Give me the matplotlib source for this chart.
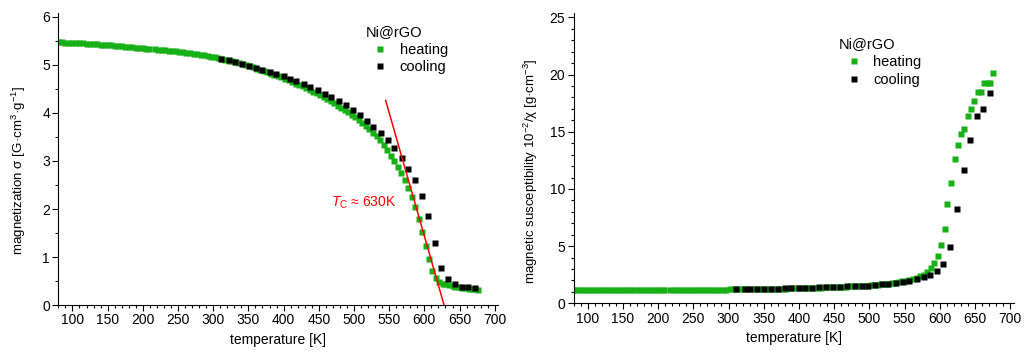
import numpy as np
import matplotlib
matplotlib.use("Agg")
import matplotlib.pyplot as plt
from matplotlib.ticker import MultipleLocator

plt.rcParams['font.family'] = ['Liberation Sans', 'DejaVu Sans']
plt.rcParams['mathtext.fontset'] = 'custom'
plt.rcParams['mathtext.rm'] = 'Liberation Sans'
plt.rcParams['mathtext.it'] = 'Liberation Sans:italic'

# heating run: temperature [K]
heat_T = [80, 85, 90, 95, 100, 105, 110, 115, 120, 125, 130, 135, 140, 145, 150,
          155, 160, 165, 170, 175, 180, 185, 190, 195, 200, 205, 209,
          217, 222, 227, 232, 237, 242, 247, 252, 257, 262, 267, 272, 277, 282,
          287, 292, 297, 302, 307, 312, 317, 322, 327, 332, 337, 342, 347, 352,
          357, 362, 367, 372, 377, 382, 387, 392, 397, 402, 407, 412, 417, 422,
          427, 432, 437, 442, 447, 452, 457, 462, 467, 472, 477, 482, 487, 492,
          497, 502, 507, 512, 517, 522, 527, 532, 537, 542, 547, 552, 557, 562,
          567, 572, 577, 582, 587, 592, 597, 602, 607, 611, 616, 621, 626, 630,
          635, 640, 644, 649, 654, 658, 663, 668, 672, 676]
# magnetization sigma [G cm3 g-1], heating
heat_M = [5.47, 5.47, 5.46, 5.46, 5.46, 5.46, 5.45, 5.45, 5.44, 5.44, 5.43, 5.43,
          5.42, 5.42, 5.41, 5.41, 5.40, 5.40, 5.39, 5.38, 5.38, 5.37, 5.36, 5.36,
          5.35, 5.34, 5.34,
          5.32, 5.31, 5.30, 5.30, 5.29, 5.28, 5.28, 5.27, 5.26, 5.25, 5.24, 5.23,
          5.22, 5.21, 5.20, 5.19, 5.17, 5.16, 5.14, 5.13, 5.11, 5.09, 5.08, 5.06,
          5.04, 5.02, 5.00, 4.97, 4.95, 4.92, 4.90, 4.87, 4.85, 4.82, 4.79, 4.77,
          4.74, 4.71, 4.68, 4.65, 4.61, 4.58, 4.55, 4.51, 4.48, 4.44, 4.41, 4.37,
          4.33, 4.29, 4.24, 4.20, 4.15, 4.11, 4.06, 4.01, 3.96, 3.91, 3.85, 3.79,
          3.72, 3.66, 3.59, 3.51, 3.43, 3.34, 3.22, 3.11, 2.99, 2.87, 2.74, 2.60,
          2.44, 2.26, 2.05, 1.80, 1.52, 1.24, 0.96, 0.72, 0.57, 0.49, 0.45, 0.43,
          0.41, 0.39, 0.38, 0.37, 0.36, 0.35, 0.34, 0.33, 0.33, 0.32]
# inverse susceptibility 10^-2/chi [g cm-3], heating
heat_X = [1.15, 1.15, 1.15, 1.15, 1.15, 1.15, 1.15, 1.15, 1.15, 1.15, 1.15, 1.15,
          1.15, 1.15, 1.16, 1.16, 1.16, 1.16, 1.16, 1.16, 1.16, 1.16, 1.16, 1.16,
          1.17, 1.17, 1.17,
          1.17, 1.17, 1.17, 1.17, 1.18, 1.18, 1.18, 1.18, 1.18, 1.19, 1.19, 1.19,
          1.20, 1.20, 1.20, 1.21, 1.21, 1.22, 1.22, 1.23, 1.23, 1.24, 1.24, 1.25,
          1.25, 1.26, 1.26, 1.27, 1.27, 1.28, 1.28, 1.29, 1.29, 1.30, 1.31, 1.31,
          1.32, 1.33, 1.33, 1.34, 1.35, 1.36, 1.37, 1.38, 1.39, 1.40, 1.41, 1.42,
          1.44, 1.45, 1.46, 1.48, 1.49, 1.51, 1.52, 1.54, 1.56, 1.58, 1.60, 1.62,
          1.65, 1.68, 1.71, 1.75, 1.79, 1.84, 1.92, 1.98, 2.05, 2.13, 2.22, 2.35,
          2.50, 2.72, 3.12, 3.50, 4.14, 5.07, 6.50, 8.68, 10.52, 12.65, 13.81,
          14.77, 15.27, 16.38, 16.99, 17.69, 18.44, 18.44, 19.23, 19.23, 19.23,
          20.10]

# cooling run
cool_T = [311, 323, 331, 341, 351, 361, 370, 380, 389, 400, 409, 418, 429, 438,
          449, 459, 468, 479, 489, 498, 508, 518, 527, 538, 548, 557, 568, 577,
          586, 596, 605, 615, 624, 634, 643, 653, 662, 672]
cool_M = [5.13, 5.10, 5.06, 5.02, 4.98, 4.94, 4.90, 4.85, 4.81, 4.76, 4.71, 4.67,
          4.60, 4.54, 4.47, 4.40, 4.33, 4.24, 4.17, 4.07, 3.95, 3.84, 3.71, 3.58,
          3.43, 3.26, 3.07, 2.84, 2.60, 2.28, 1.86, 1.30, 0.78, 0.55, 0.44, 0.38,
          0.37, 0.35]
cool_X = [1.25, 1.25, 1.26, 1.27, 1.28, 1.29, 1.30, 1.32, 1.33, 1.34, 1.35, 1.37,
          1.39, 1.41, 1.44, 1.46, 1.48, 1.51, 1.53, 1.56, 1.60, 1.65, 1.71, 1.79,
          1.87, 1.97, 2.10, 2.27, 2.45, 2.83, 3.44, 4.92, 8.22, 11.63, 14.28,
          16.38, 17.02, 18.41]

# tangent used for the Curie temperature estimate
tc_line_T = [545, 628]
tc_line_M = [4.26, 0.0]

green = '#17b117'
ms = 3.8

fig = plt.figure(figsize=(10.24, 3.54), dpi=100)
ax1 = fig.add_axes([0.057, 0.138, 0.4296, 0.824])
ax2 = fig.add_axes([0.5602, 0.143, 0.4297, 0.821])


def style(ax):
    ax.spines['top'].set_visible(False)
    ax.spines['right'].set_visible(False)
    ax.set_xlim(80, 705)
    ax.xaxis.set_major_locator(MultipleLocator(50))
    ax.xaxis.set_minor_locator(MultipleLocator(10))
    ax.tick_params(which='major', direction='out', length=4, width=0.8,
                   labelsize=10, pad=2)
    ax.tick_params(which='minor', direction='out', length=2, width=0.8)
    ax.set_xticks(np.arange(100, 701, 50))
    ax.set_xlabel('temperature [K]', fontsize=10, labelpad=4)


def add_legend(ax, anchor):
    ax.legend(title='Ni@rGO', loc='upper left', bbox_to_anchor=anchor,
              frameon=False, alignment='left', fontsize=10.5, title_fontsize=10.5,
              handlelength=2.0, handletextpad=0.35, borderaxespad=0,
              labelspacing=0.25, markerscale=1.0)


# left: magnetization
ax1.plot(heat_T, heat_M, 's', color=green, ms=ms, mec='none', label='heating')
ax1.plot(cool_T, cool_M, 's', color='black', ms=ms, mec='none', label='cooling')
ax1.plot(tc_line_T, tc_line_M, '-', color='red', lw=1.1)
ax1.text(468, 2.12, r'$\mathit{T}_\mathrm{C}$ ≈ 630K', color='red',
         fontsize=10, va='center', ha='left')
style(ax1)
ax1.yaxis.set_major_locator(MultipleLocator(1))
ax1.yaxis.set_minor_locator(MultipleLocator(0.5))
ax1.set_ylim(0, 6.07)
ax1.set_ylabel(r'magnetization σ [G·cm$^3$·g$^{-1}$]', fontsize=9.6)
ax1.yaxis.set_label_coords(-0.07, 0.463)
add_legend(ax1, (0.685, 0.98))

# right: inverse susceptibility
ax2.plot(heat_T, heat_X, 's', color=green, ms=ms, mec='none', label='heating')
ax2.plot(cool_T, cool_X, 's', color='black', ms=ms, mec='none', label='cooling')
style(ax2)
ax2.yaxis.set_major_locator(MultipleLocator(5))
ax2.yaxis.set_minor_locator(MultipleLocator(1))
ax2.set_ylim(0, 25.4)
ax2.set_ylabel(r'magnetic susceptibility 10$^{-2}$/χ [g·cm$^{-3}$]', fontsize=9.5)
ax2.yaxis.set_label_coords(-0.0766, 0.4535)
add_legend(ax2, (0.59, 0.935))

fig.savefig('out.png', dpi=100)
